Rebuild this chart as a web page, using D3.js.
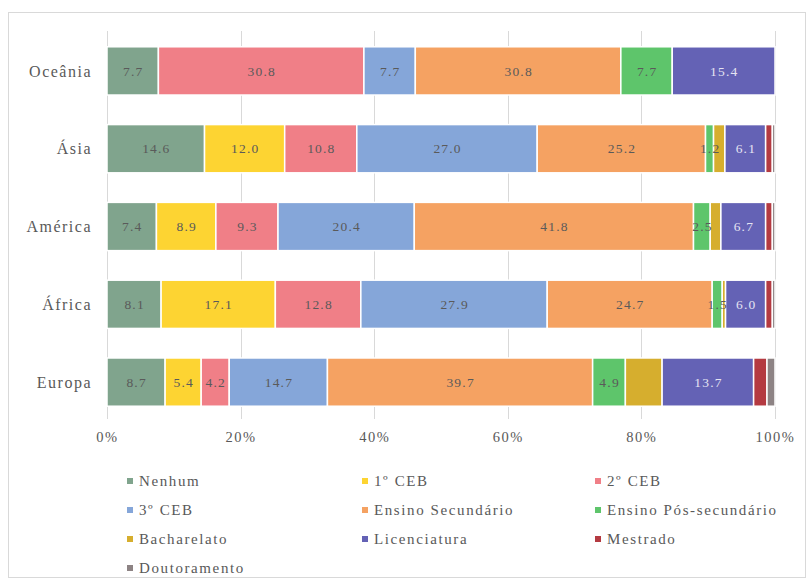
<!DOCTYPE html>
<html>
<head>
<meta charset="utf-8">
<script src="https://cdn.jsdelivr.net/npm/d3@7"></script>
<style>
  html, body { margin: 0; padding: 0; background: #ffffff; }
  svg { display: block; }
  svg text { font-family: "Liberation Serif", "Times New Roman", Tinos, "DejaVu Serif", serif; }
</style>
</head>
<body>
<svg id="chart" width="812" height="579"></svg>
<script>
// Regions, top to bottom
const regions = ["Oceânia", "Ásia", "América", "África", "Europa"];

// Education levels (stack order, left to right)
const levels = ["Nenhum", "1º CEB", "2º CEB", "3º CEB", "Ensino Secundário",
  "Ensino Pós-secundário", "Bacharelato", "Licenciatura", "Mestrado", "Doutoramento"];

// Percentage per level, one array per level, in the order of `regions`
const nenhum        = [7.7, 14.6, 7.4, 8.1, 8.7];
const ceb1          = [0.0, 12.0, 8.9, 17.1, 5.4];
const ceb2          = [30.8, 10.8, 9.3, 12.8, 4.2];
const ceb3          = [7.7, 27.0, 20.4, 27.9, 14.7];
const secundario    = [30.8, 25.2, 41.8, 24.7, 39.7];
const posSecundario = [7.7, 1.2, 2.5, 1.5, 4.9];
const bacharelato   = [0.0, 1.7, 1.6, 0.5, 5.5];
const licenciatura  = [15.4, 6.1, 6.7, 6.0, 13.7];
const mestrado      = [0.0, 1.0, 1.0, 1.0, 2.0];
const doutoramento  = [0.0, 0.4, 0.4, 0.4, 1.2];

const seriesValues = [nenhum, ceb1, ceb2, ceb3, secundario, posSecundario,
  bacharelato, licenciatura, mestrado, doutoramento];

// Levels whose segments carry a value label
const labelledLevels = ["Nenhum", "1º CEB", "2º CEB", "3º CEB", "Ensino Secundário",
  "Ensino Pós-secundário", "Licenciatura"];

const tickValues = [0, 0.2, 0.4, 0.6, 0.8, 1.0];

const colors = ["#80a48d", "#fdd432", "#f07f87", "#85a6d9", "#f5a262",
  "#5ec56b", "#d6ae2e", "#6462b5", "#b43a41", "#8d8384"];

const serif = "'Liberation Serif', 'Times New Roman', Tinos, 'DejaVu Serif', serif";

// Table built from the arrays above
const table = regions.map((r, i) => {
  const row = { region: r };
  levels.forEach((l, j) => { row[l] = seriesValues[j][i]; });
  return row;
});

const svg = d3.select("#chart").attr("font-family", serif);
const textColor = "#595959";

// Chart frame
svg.append("rect")
  .attr("x", 8.5).attr("y", 12.5)
  .attr("width", 797).attr("height", 565)
  .attr("fill", "#ffffff")
  .attr("stroke", "#d9d9d9").attr("stroke-width", 1);

const x = d3.scaleLinear().domain([0, 1]).range([107, 775]);
const y = d3.scaleBand().domain(regions).range([32, 421])
  .paddingInner(0.38).paddingOuter(0.19);

// Vertical gridlines
svg.append("g").selectAll("line")
  .data(tickValues)
  .join("line")
  .attr("x1", d => Math.round(x(d)) + 0.5).attr("x2", d => Math.round(x(d)) + 0.5)
  .attr("y1", 31).attr("y2", 419)
  .attr("stroke", "#d9d9d9").attr("stroke-width", 1);

// 100% stacked series
const stack = d3.stack().keys(levels).offset(d3.stackOffsetExpand);
const stacked = stack(table);

const layers = svg.append("g").selectAll("g")
  .data(stacked)
  .join("g")
  .attr("fill", (d, i) => colors[i]);

layers.selectAll("rect")
  .data(d => d.filter(s => s[1] - s[0] > 0))
  .join("rect")
  .attr("x", d => x(d[0]))
  .attr("width", d => x(d[1]) - x(d[0]))
  .attr("y", d => y(d.data.region))
  .attr("height", y.bandwidth())
  .attr("stroke", "#ffffff")
  .attr("stroke-width", 1.5);

// Value labels
const fmt = d3.format(".1f");
const labelGroup = svg.append("g")
  .attr("font-family", serif)
  .attr("font-size", 13.5)
  .attr("letter-spacing", 1.2)
  .attr("text-anchor", "middle");

stacked.forEach(layer => {
  if (!labelledLevels.includes(layer.key)) return;
  const light = layer.key === "Licenciatura";
  layer.forEach(s => {
    const v = s.data[layer.key];
    if (!(v > 0)) return;
    labelGroup.append("text")
      .attr("x", (x(s[0]) + x(s[1])) / 2 + 0.6)
      .attr("y", y(s.data.region) + y.bandwidth() / 2)
      .attr("dy", "0.35em")
      .attr("fill", light ? "#e4e4f2" : "#5a5a5a")
      .text(fmt(v));
  });
});

// Category axis labels
svg.append("g").selectAll("text")
  .data(regions)
  .join("text")
  .attr("x", 92)
  .attr("y", d => y(d) + y.bandwidth() / 2)
  .attr("dy", "0.35em")
  .attr("text-anchor", "end")
  .attr("font-family", serif)
  .attr("font-size", 16)
  .attr("letter-spacing", 1.5)
  .attr("fill", textColor)
  .text(d => d);

// Percentage axis
const xAxis = d3.axisBottom(x)
  .tickValues(tickValues)
  .tickFormat(d3.format(".0%"))
  .tickSize(0)
  .tickPadding(0);

const axisG = svg.append("g")
  .attr("transform", "translate(0,432)")
  .call(xAxis)
  .attr("font-family", serif);
axisG.select(".domain").remove();
axisG.selectAll("text")
  .attr("font-size", 14.5)
  .attr("letter-spacing", 1.5)
  .attr("fill", textColor);

// Legend: three columns
const legendCols = [130, 365, 598];
const legendRows = [481, 510, 539, 568];
const legend = svg.append("g")
  .attr("font-family", serif)
  .selectAll("g")
  .data(levels)
  .join("g")
  .attr("transform", (d, i) => `translate(${legendCols[i % 3]},${legendRows[Math.floor(i / 3)]})`);

legend.append("rect")
  .attr("x", -3).attr("y", -3)
  .attr("width", 6).attr("height", 6)
  .attr("fill", (d, i) => colors[i]);

legend.append("text")
  .attr("x", 9)
  .attr("dy", "0.35em")
  .attr("font-size", 15)
  .attr("letter-spacing", 1.6)
  .attr("fill", textColor)
  .text(d => d);
</script>
</body>
</html>
